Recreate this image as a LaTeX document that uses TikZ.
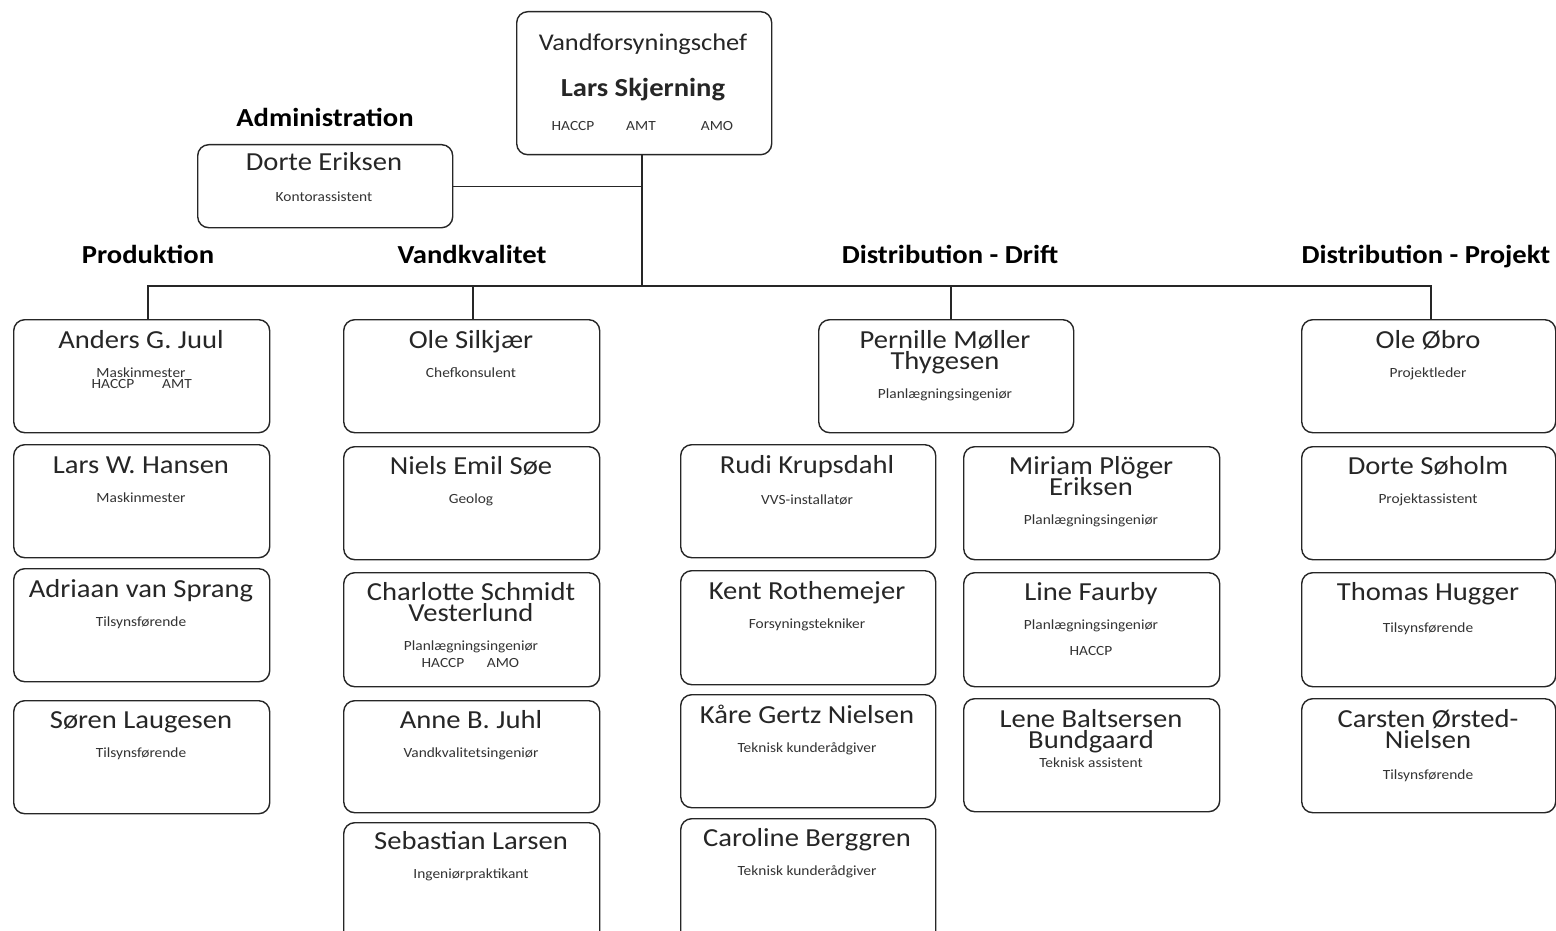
\documentclass[tikz,border=0pt]{standalone}
\usepackage{fontspec}
\setmainfont{Carlito}[FakeStretch=1.1]
\begin{document}
\begin{tikzpicture}[x=1pt,y=-1pt,
  pbox/.style={draw=black!85, line width=1.4pt, rounded corners=11pt, fill=white,
    minimum width=256pt, minimum height=113pt, anchor=north west, inner sep=0pt},
  nm/.style={anchor=base, inner sep=0pt, font=\fontsize{26}{26}\selectfont, text=black!85},
  sm/.style={anchor=base, inner sep=0pt, font=\fontsize{14}{14}\selectfont, text=black!80},
  dept/.style={anchor=base, inner sep=0pt, font=\bfseries\fontsize{26}{26}\selectfont, text=black},
  conn/.style={draw=black!85, line width=1.3pt}]
\useasboundingbox (0,0) rectangle (1556,931);
\clip (0,0) rectangle (1556,931);

% top
\node[pbox, minimum width=255pt, minimum height=143pt] (chef) at (516,11) {};
\node[nm, font=\fontsize{24}{24}\selectfont] (chefT) at (643,51) {Vandforsyningschef};
\node[nm, font=\bfseries\fontsize{26}{26}\selectfont] (chefN) at (643,97) {Lars Skjerning};
\node[sm] (chefH) at (573,131) {HACCP};
\node[sm] (chefA) at (641,131) {AMT};
\node[sm] (chefO) at (717,131) {AMO};

% administration
\node[dept] (admL) at (325,127) {Administration};
\node[pbox, minimum width=255pt, minimum height=83pt] (dorte) at (197,144) {};
\node[nm] (dorteN) at (324,171) {Dorte Eriksen};
\node[sm] (dorteS) at (324,201) {Kontorassistent};

% dept labels
\node[dept] (prodL) at (148,263) {Produktion};
\node[dept] (vkL) at (472,263) {Vandkvalitet};
\node[dept] (ddL) at (950,263) {Distribution - Drift};
\node[dept] (dpL) at (1426,263) {Distribution - Projekt};

% column 1
\node[pbox] (anders) at (13,319) {};
\node[nm] (andersN) at (141,348) {Anders G. Juul};
\node[sm] (andersS) at (141,377) {Maskinmester};
\node[sm] (andersH) at (113,388) {HACCP};
\node[sm] (andersA) at (177,388) {AMT};

\node[pbox] (larsw) at (13,444) {};
\node[nm] (larswN) at (141,473) {Lars W. Hansen};
\node[sm] (larswS) at (141,502) {Maskinmester};

\node[pbox] (adriaan) at (13,568) {};
\node[nm] (adriaanN) at (141,597) {Adriaan van Sprang};
\node[sm] (adriaanS) at (141,626) {Tilsynsførende};

\node[pbox] (soren) at (13,700) {};
\node[nm] (sorenN) at (141,728) {Søren Laugesen};
\node[sm] (sorenS) at (141,757) {Tilsynsførende};

% column 2
\node[pbox] (silk) at (343,319) {};
\node[nm] (silkN) at (471,348) {Ole Silkjær};
\node[sm] (silkS) at (471,377) {Chefkonsulent};

\node[pbox] (niels) at (343,446) {};
\node[nm] (nielsN) at (471,474) {Niels Emil Søe};
\node[sm] (nielsS) at (471,503) {Geolog};

\node[pbox, minimum height=114pt] (charl) at (343,572) {};
\node[nm] (charlN) at (471,600) {Charlotte Schmidt};
\node[nm] (charlN2) at (471,621) {Vesterlund};
\node[sm] (charlS) at (471,650) {Planlægningsingeniør};
\node[sm] (charlH) at (443,667) {HACCP};
\node[sm] (charlA) at (503,667) {AMO};

\node[pbox, minimum height=112pt] (anne) at (343,700) {};
\node[nm] (anneN) at (471,728) {Anne B. Juhl};
\node[sm] (anneS) at (471,757) {Vandkvalitetsingeniør};

\node[pbox, minimum height=130pt] (seb) at (343,822) {};
\node[nm] (sebN) at (471,849) {Sebastian Larsen};
\node[sm] (sebS) at (471,878) {Ingeniørpraktikant};

% column 3 (drift)
\node[pbox, minimum width=255pt] (pern) at (818,319) {};
\node[nm] (pernN) at (945,348) {Pernille Møller};
\node[nm] (pernN2) at (945,369) {Thygesen};
\node[sm] (pernS) at (945,398) {Planlægningsingeniør};

\node[pbox, minimum width=255pt] (rudi) at (680,444) {};
\node[nm] (rudiN) at (807,473) {Rudi Krupsdahl};
\node[sm] (rudiS) at (807,504) {VVS-installatør};

\node[pbox, minimum width=255pt, minimum height=114pt] (kent) at (680,570) {};
\node[nm] (kentN) at (807,599) {Kent Rothemejer};
\node[sm] (kentS) at (807,628) {Forsyningstekniker};

\node[pbox, minimum width=255pt] (kare) at (680,694) {};
\node[nm] (kareN) at (807,723) {Kåre Gertz Nielsen};
\node[sm] (kareS) at (807,752) {Teknisk kunderådgiver};

\node[pbox, minimum width=255pt, minimum height=130pt] (carol) at (680,818) {};
\node[nm] (carolN) at (807,846) {Caroline Berggren};
\node[sm] (carolS) at (807,875) {Teknisk kunderådgiver};

\node[pbox] (miriam) at (963,446) {};
\node[nm] (miriamN) at (1091,474) {Miriam Plöger};
\node[nm] (miriamN2) at (1091,495) {Eriksen};
\node[sm] (miriamS) at (1091,524) {Planlægningsingeniør};

\node[pbox, minimum height=114pt] (line) at (963,572) {};
\node[nm] (lineN) at (1091,600) {Line Faurby};
\node[sm] (lineS) at (1091,629) {Planlægningsingeniør};
\node[sm] (lineH) at (1091,655) {HACCP};

\node[pbox] (lene) at (963,698) {};
\node[nm] (leneN) at (1091,727) {Lene Baltsersen};
\node[nm] (leneN2) at (1091,748) {Bundgaard};
\node[sm] (leneS) at (1091,767) {Teknisk assistent};

% column 4
\node[pbox, minimum width=254pt] (obro) at (1301,319) {};
\node[nm] (obroN) at (1428,348) {Ole Øbro};
\node[sm] (obroS) at (1428,377) {Projektleder};

\node[pbox, minimum width=254pt] (soholm) at (1301,446) {};
\node[nm] (soholmN) at (1428,474) {Dorte Søholm};
\node[sm] (soholmS) at (1428,503) {Projektassistent};

\node[pbox, minimum width=254pt, minimum height=114pt] (hugger) at (1301,572) {};
\node[nm] (huggerN) at (1428,600) {Thomas Hugger};
\node[sm] (huggerS) at (1428,632) {Tilsynsførende};

\node[pbox, minimum width=254pt, minimum height=114pt] (carsten) at (1301,698) {};
\node[nm] (carstenN) at (1428,727) {Carsten Ørsted-};
\node[nm] (carstenN2) at (1428,748) {Nielsen};
\node[sm] (carstenS) at (1428,779) {Tilsynsførende};

% connectors
\coordinate (hub) at (642,286);
\coordinate (dropP) at (148,319);
\coordinate (dropV) at (473,319);
\coordinate (dropD) at (951,319);
\coordinate (dropJ) at (1431,319);
\draw[conn] (chef.south -| hub) -- (hub);
\draw[conn] (dorte.east) -- (dorte.east -| hub);
\draw[conn] (dropP) |- (hub) -| (dropJ);
\draw[conn] (dropV) -- (dropV |- hub);
\draw[conn] (dropD) -- (dropD |- hub);
\end{tikzpicture}
\end{document}
